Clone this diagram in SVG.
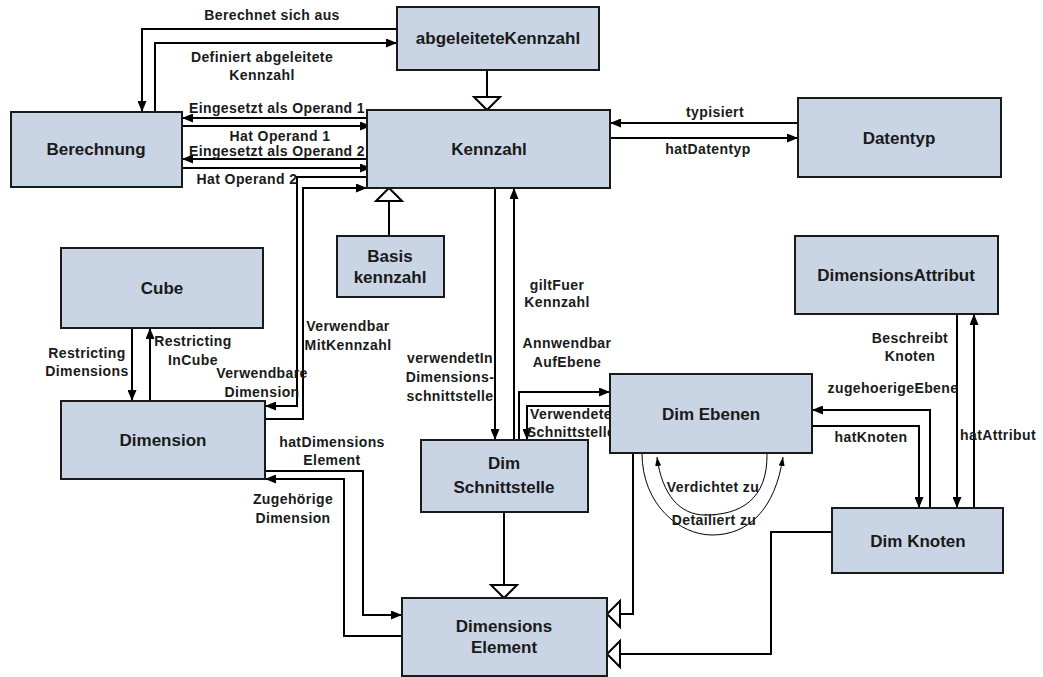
<svg xmlns="http://www.w3.org/2000/svg" width="1043" height="677" viewBox="0 0 1043 677">
<style>
.n rect{fill:#c9d5e4;stroke:#1a1a1a;stroke-width:2}
.n text{font-family:"Liberation Sans",Arial,sans-serif;font-weight:bold;font-size:17px;fill:#1a1a1a;text-anchor:middle}
.c path{fill:none;stroke:#000;stroke-width:2}
.c path.a{marker-end:url(#arr)}
.c path.i{marker-end:url(#inh)}
.c path.t{stroke-width:1;marker-end:url(#sarr)}
.l text{font-family:"Liberation Sans",Arial,sans-serif;font-weight:bold;font-size:14px;letter-spacing:0.4px;fill:#1a1a1a;text-anchor:middle}
</style>
<defs>
<marker id="arr" viewBox="0 0 11 9" refX="11" refY="4.5" markerWidth="11" markerHeight="9" markerUnits="userSpaceOnUse" orient="auto"><path d="M0,0 L11,4.5 L0,9 z" fill="#000"/></marker>
<marker id="sarr" viewBox="0 0 9 6" refX="9" refY="3" markerWidth="9" markerHeight="6" markerUnits="userSpaceOnUse" orient="auto"><path d="M0,0 L9,3 L0,6 z" fill="#000"/></marker>
<marker id="inh" viewBox="-2 -2 17 30" refX="13" refY="13" markerWidth="17" markerHeight="30" markerUnits="userSpaceOnUse" orient="auto" overflow="visible"><path d="M0,0 L13,13 L0,26 z" fill="#fff" stroke="#000" stroke-width="2"/></marker>
</defs>
<rect width="1043" height="677" fill="#fff"/>
<g class="c" id="connectors">
<path class="a" d="M397,29 H142 V112"/>
<path class="a" d="M155,112 V43 H397"/>
<path class="i" d="M487,70 V110"/>
<path class="a" d="M373,118 H182"/>
<path class="a" d="M182,126 H371"/>
<path class="a" d="M373,159 H182"/>
<path class="a" d="M182,168 H371"/>
<path class="a" d="M368,177 H297 V406 H265"/>
<path class="a" d="M265,419 H303 V188 H367"/>
<path class="a" d="M132,328 V401"/>
<path class="a" d="M150,401 V328"/>
<path class="i" d="M389,236 V188"/>
<path class="a" d="M495,188 V440"/>
<path class="a" d="M514,440 V188"/>
<path class="a" d="M519,440 V392 H610"/>
<path class="a" d="M610,406 H527 V440"/>
<path class="a" d="M798,123 H610"/>
<path class="a" d="M610,138 H798"/>
<path class="a" d="M930,508 V410 H812"/>
<path class="a" d="M812,426 H919 V508"/>
<path class="a" d="M957,314 V508"/>
<path class="a" d="M974,508 V314"/>
<path class="a" d="M265,471 H363 V615 H402"/>
<path class="a" d="M402,636 H344 V479 H265"/>
<path class="i" d="M504,512 V598"/>
<path class="i" d="M633,453 V614 H607"/>
<path class="i" d="M832,532 H771 V654 H607"/>
<path class="t" d="M767,453 C768,500 740,515 705,515 C680,515 662,495 657,457"/>
<path class="t" d="M642,453 C642,505 680,535 712,535 C748,535 775,510 783,457"/>
</g>
<g class="l" id="labels">
<text x="272" y="20">Berechnet sich aus</text>
<text x="262" y="62">Definiert abgeleitete</text>
<text x="262" y="80">Kennzahl</text>
<text x="277" y="113">Eingesetzt als Operand 1</text>
<text x="280" y="141">Hat Operand 1</text>
<text x="277" y="156">Eingesetzt als Operand 2</text>
<text x="247" y="184">Hat Operand 2</text>
<text x="348" y="331">Verwendbar</text>
<text x="348" y="350">MitKennzahl</text>
<text x="262" y="378">Verwendbare</text>
<text x="262" y="397">Dimension</text>
<text x="87" y="358">Restricting</text>
<text x="87" y="376">Dimensions</text>
<text x="193" y="346">Restricting</text>
<text x="193" y="365">InCube</text>
<text x="450" y="363">verwendetIn</text>
<text x="450" y="382">Dimensions-</text>
<text x="450" y="401">schnittstelle</text>
<text x="557" y="290">giltFuer</text>
<text x="557" y="307">Kennzahl</text>
<text x="567" y="348">Annwendbar</text>
<text x="567" y="367">AufEbene</text>
<text x="571" y="419">Verwendete</text>
<text x="571" y="437">Schnittstelle</text>
<text x="715" y="117">typisiert</text>
<text x="708" y="154">hatDatentyp</text>
<text x="910" y="343">Beschreibt</text>
<text x="910" y="361">Knoten</text>
<text x="893" y="393">zugehoerigeEbene</text>
<text x="871" y="442">hatKnoten</text>
<text x="998" y="440">hatAttribut</text>
<text x="332" y="447">hatDimensions</text>
<text x="332" y="465">Element</text>
<text x="293" y="504">Zugehörige</text>
<text x="293" y="523">Dimension</text>
<text x="713" y="492">Verdichtet zu</text>
<text x="714" y="525">Detailiert zu</text>
</g>
<g class="n" id="abgeleiteteKennzahl"><rect x="397" y="7" width="202" height="63"/><text x="498" y="44">abgeleiteteKennzahl</text></g>
<g class="n" id="Kennzahl"><rect x="367" y="110" width="243" height="78"/><text x="489" y="155">Kennzahl</text></g>
<g class="n" id="Berechnung"><rect x="11" y="112" width="171" height="75"/><text x="96" y="155">Berechnung</text></g>
<g class="n" id="Datentyp"><rect x="798" y="98" width="203" height="79"/><text x="899" y="144">Datentyp</text></g>
<g class="n" id="DimensionsAttribut"><rect x="795" y="236" width="203" height="78"/><text x="896" y="281">DimensionsAttribut</text></g>
<g class="n" id="Cube"><rect x="61" y="248" width="202" height="80"/><text x="162" y="294">Cube</text></g>
<g class="n" id="Dimension"><rect x="61" y="401" width="204" height="78"/><text x="163" y="446">Dimension</text></g>
<g class="n" id="Basiskennzahl"><rect x="337" y="236" width="107" height="61"/><text x="390" y="262">Basis</text><text x="390" y="283">kennzahl</text></g>
<g class="n" id="DimSchnittstelle"><rect x="421" y="440" width="167" height="72"/><text x="504" y="469">Dim</text><text x="504" y="493">Schnittstelle</text></g>
<g class="n" id="DimensionsElement"><rect x="402" y="598" width="205" height="78"/><text x="504" y="632">Dimensions</text><text x="504" y="653">Element</text></g>
<g class="n" id="DimEbenen"><rect x="610" y="374" width="202" height="79"/><text x="711" y="420">Dim Ebenen</text></g>
<g class="n" id="DimKnoten"><rect x="832" y="508" width="171" height="65"/><text x="918" y="547">Dim Knoten</text></g>
</svg>
